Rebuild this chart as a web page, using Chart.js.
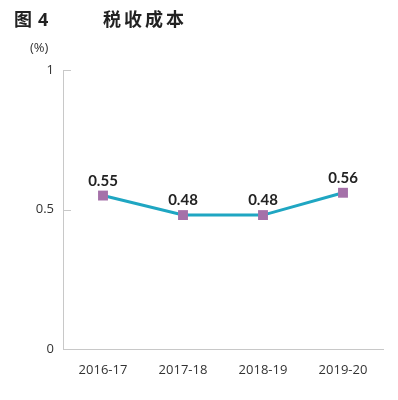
<!DOCTYPE html>
<html>
<head>
<meta charset="utf-8">
<script src="https://cdn.jsdelivr.net/npm/chart.js@4"></script>
<style>
  body { margin: 0; background: #fff; }
  .wrap { position: relative; width: 398px; height: 400px; }
  .title { position: absolute; top: 5px; left: 14px; font: bold 18px "Noto Sans CJK SC", sans-serif; color: #222; }
  .title .num { margin-left: 6px; font-family: "Open Sans", sans-serif; }
  .title .name { position: absolute; left: 89px; white-space: nowrap; letter-spacing: 3px; }
  .unit { position: absolute; top: 38px; left: 30px; font: 13px "Open Sans", sans-serif; color: #333; }
  canvas { position: absolute; top: 0; left: 0; }
</style>
</head>
<body>
<div class="wrap">
  <canvas id="taxChart" width="398" height="400"></canvas>
  <div class="title"><span>图</span><span class="num">4</span><span class="name">税收成本</span></div>
  <div class="unit">(%)</div>
</div>
<script>
// data
const years = ["2016-17", "2017-18", "2018-19", "2019-20"];
const costs = [0.55, 0.48, 0.48, 0.56];
const yTicks = [0, 0.5, 1];

// short ticks pointing into the plot
const innerTicks = {
  id: "innerTicks",
  afterDraw(chart) {
    const { ctx, scales } = chart;
    const left = chart.chartArea.left;
    ctx.save();
    ctx.strokeStyle = "#c8c8c8";
    ctx.lineWidth = 1;
    yTicks.forEach(function (v) {
      if (v === 0) return;
      const y = Math.round(scales.y.getPixelForValue(v)) + 0.5;
      ctx.beginPath();
      ctx.moveTo(left, y);
      ctx.lineTo(left + 8, y);
      ctx.stroke();
    });
    ctx.restore();
  },
};

// value labels over the markers
const valueLabels = {
  id: "valueLabels",
  afterDatasetsDraw(chart) {
    const { ctx } = chart;
    const meta = chart.getDatasetMeta(0);
    ctx.save();
    ctx.font = "bold 15px Lato, sans-serif";
    ctx.fillStyle = "#222";
    ctx.textAlign = "center";
    ctx.textBaseline = "alphabetic";
    meta.data.forEach(function (pt, i) {
      ctx.fillText(costs[i].toFixed(2), pt.x, pt.y - 10);
    });
    ctx.restore();
  },
};

const ctx = document.getElementById("taxChart").getContext("2d");

new Chart(ctx, {
  type: "line",
  data: {
    labels: years,
    datasets: [
      {
        data: costs,
        borderColor: "#1fa6c2",
        borderWidth: 3,
        pointStyle: "rect",
        pointRadius: 7,
        pointBackgroundColor: "#a571a9",
        pointBorderColor: "#a571a9",
        pointBorderWidth: 0,
        tension: 0,
      },
    ],
  },
  options: {
    responsive: false,
    animation: false,
    layout: {
      padding: { top: 70, right: 15, bottom: 0, left: 0 },
    },
    scales: {
      x: {
        offset: true,
        grid: { display: false, drawTicks: false },
        border: { color: "#c8c8c8", width: 1 },
        ticks: {
          color: "#333",
          padding: 13,
          font: { family: "'Open Sans', sans-serif", size: 13 },
        },
        afterFit: function (scale) {
          scale.height = 51;
        },
      },
      y: {
        min: 0,
        max: 1,
        grid: { display: false, drawTicks: false },
        border: { color: "#c8c8c8", width: 1 },
        afterBuildTicks: function (scale) {
          scale.ticks = yTicks.map(function (v) { return { value: v }; });
        },
        ticks: {
          color: "#333",
          padding: 9,
          font: { family: "'Open Sans', sans-serif", size: 13 },
          callback: function (v) { return String(v); },
        },
        afterFit: function (scale) {
          scale.width = 63;
        },
      },
    },
    plugins: {
      legend: { display: false },
      tooltip: { enabled: false },
    },
  },
  plugins: [innerTicks, valueLabels],
});
</script>
</body>
</html>
